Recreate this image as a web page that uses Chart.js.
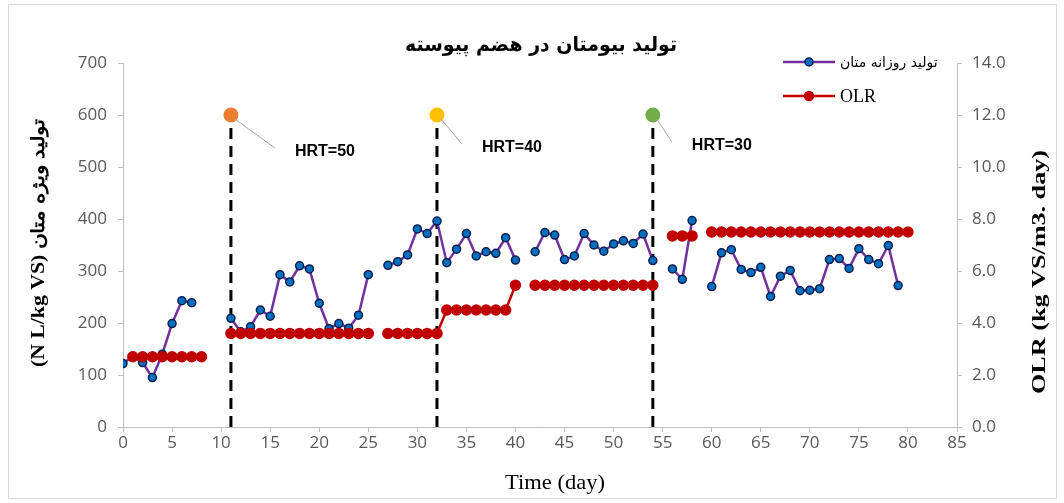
<!DOCTYPE html>
<html lang="fa">
<head>
<meta charset="UTF-8">
<title>Biomethane</title>
<script src="https://cdn.jsdelivr.net/npm/chart.js@4.4.0/dist/chart.umd.min.js"></script>
<style>
  body { margin: 0; background: #fff; }
  canvas { display: block; }
</style>
</head>
<body>
<canvas id="myChart" width="1064" height="503"></canvas>
<script>
// ---- data ----
const days = [0,1,2,3,4,5,6,7,8,9,10,11,12,13,14,15,16,17,18,19,20,
  21,22,23,24,25,26,27,28,29,30,31,32,33,34,35,36,37,38,39,40,
  41,42,43,44,45,46,47,48,49,50,51,52,53,54,55,56,57,58,59,60,
  61,62,63,64,65,66,67,68,69,70,71,72,73,74,75,76,77,78,79,80];

// daily specific methane production (N L/kg VS), left axis
const methane = [122,136,124,95,140,199,243,239,null,null,null,
  209,183,193,225,213,293,279,310,304,238,
  189,199,190,215,293,null,311,318,331,381,
  372,396,316,342,372,329,337,334,364,321,
  null,337,374,369,322,329,372,350,338,352,
  358,353,371,320,null,304,284,397,null,270,
  335,341,303,297,307,251,290,301,262,263,
  266,322,324,305,343,322,314,349,272,null];

// organic loading rate (kg VS/m3.day), right axis
const olr = [null,2.7,2.7,2.7,2.7,2.7,2.7,2.7,2.7,null,null,
  3.6,3.6,3.6,3.6,3.6,3.6,3.6,3.6,3.6,3.6,
  3.6,3.6,3.6,3.6,3.6,null,3.6,3.6,3.6,3.6,
  3.6,3.6,4.5,4.5,4.5,4.5,4.5,4.5,4.5,5.45,
  null,5.45,5.45,5.45,5.45,5.45,5.45,5.45,5.45,5.45,
  5.45,5.45,5.45,5.45,null,7.35,7.35,7.35,null,7.5,
  7.5,7.5,7.5,7.5,7.5,7.5,7.5,7.5,7.5,7.5,
  7.5,7.5,7.5,7.5,7.5,7.5,7.5,7.5,7.5,7.5];

// HRT change markers
const hrtDays = [11, 32, 54];
const hrtTop = 600;
const hrtLabels = ['HRT=50', 'HRT=40', 'HRT=30'];

const titleText = 'تولید بیومتان در هضم پیوسته';
const seriesNames = ['تولید روزانه متان', 'OLR'];
const yTitle = '(N L/kg VS) تولید ویژه متان';
const y2Title = 'OLR (kg VS/m3. day)';
const xTitle = 'Time (day)';

// ---- styling ----
const hrtColors = ['#ED7D31', '#FFC000', '#70AD47'];
const hrtLabelOffset = [[64, 37], [45, 33], [39, 31]];
const tickFont = { family: "'Open Sans', sans-serif", size: 17 };
const tickColor = '#595959';
const axisColor = '#bfbfbf';
const serif = "'Liberation Serif', 'DejaVu Serif', serif";

const pts = vals => days.map((d, i) => ({ x: d, y: vals[i] }));

const hrtSets = hrtDays.map((d, i) => ({
  label: hrtLabels[i],
  data: [{ x: d, y: 0 }, { x: d, y: hrtTop }],
  yAxisID: 'y',
  borderColor: '#000',
  borderWidth: 3,
  borderDash: [11, 7],
  pointRadius: [0, 6],
  pointBackgroundColor: hrtColors[i],
  pointBorderColor: hrtColors[i],
  order: 3
}));

// draw text centred at (x,y), rotated, stretched along its length to len px
function fitText(ctx, text, x, y, rot, font, len) {
  ctx.save();
  ctx.font = font;
  ctx.translate(x, y);
  ctx.rotate(rot);
  const w = ctx.measureText(text).width;
  if (len) ctx.scale(len / w, 1);
  ctx.textAlign = 'center';
  ctx.textBaseline = 'middle';
  ctx.fillText(text, 0, 0);
  ctx.restore();
}

const extras = {
  id: 'extras',
  afterDatasetsDraw(chart) {
    const ctx = chart.ctx;
    const xs = chart.scales.x, ys = chart.scales.y;
    ctx.save();
    // HRT leader lines + labels
    hrtDays.forEach((d, i) => {
      const px = xs.getPixelForValue(d), py = ys.getPixelForValue(hrtTop);
      const tx = px + hrtLabelOffset[i][0], ty = py + hrtLabelOffset[i][1];
      ctx.strokeStyle = '#a6a6a6';
      ctx.lineWidth = 1;
      ctx.beginPath();
      ctx.moveTo(px + 4, py + 4);
      ctx.lineTo(tx - 20, ty - 4);
      ctx.stroke();
      ctx.fillStyle = '#000';
      ctx.font = "bold 16px 'Liberation Sans', Arial, sans-serif";
      ctx.textAlign = 'left';
      ctx.textBaseline = 'middle';
      ctx.fillText(hrtLabels[i], tx, ty);
    });

    ctx.fillStyle = '#000';
    // title
    fitText(ctx, titleText, 541, 46, 0, "bold 20px 'DejaVu Sans', sans-serif", 272);

    // legend
    const rows = [
      { y: 62, line: '#7030A0', fill: '#0070C0', edge: '#0a1f4f', r: 4, font: "14px 'DejaVu Sans', sans-serif" },
      { y: 96, line: '#C00000', fill: '#C00000', edge: '#C00000', r: 4.5, font: '18px ' + serif }
    ];
    rows.forEach((r, i) => {
      ctx.strokeStyle = r.line;
      ctx.lineWidth = 2.5;
      ctx.beginPath();
      ctx.moveTo(783, r.y);
      ctx.lineTo(835, r.y);
      ctx.stroke();
      ctx.beginPath();
      ctx.arc(809, r.y, r.r, 0, Math.PI * 2);
      ctx.fillStyle = r.fill;
      ctx.fill();
      ctx.lineWidth = 1.5;
      ctx.strokeStyle = r.edge;
      ctx.stroke();
      ctx.fillStyle = '#000';
      ctx.font = r.font;
      ctx.textAlign = 'left';
      ctx.textBaseline = 'middle';
      ctx.fillText(seriesNames[i], 840, r.y + 1);
    });

    // axis titles
    fitText(ctx, yTitle, 39, 243, -Math.PI / 2, 'bold 18px ' + serif, 248);
    fitText(ctx, y2Title, 1040, 272, -Math.PI / 2, 'bold 18px ' + serif, 244);
    fitText(ctx, xTitle, 555, 483, 0, '21px ' + serif, 100);

    // chart area frame
    ctx.strokeStyle = '#d9d9d9';
    ctx.lineWidth = 1;
    ctx.strokeRect(8.5, 4.5, 1048, 494);
    ctx.restore();
  }
};

new Chart(document.getElementById('myChart'), {
  type: 'line',
  data: {
    datasets: [
      {
        label: seriesNames[1],
        data: pts(olr),
        yAxisID: 'y2',
        borderColor: '#C00000',
        borderWidth: 2.5,
        pointRadius: 4.5,
        pointBackgroundColor: '#C00000',
        pointBorderColor: '#C00000',
        spanGaps: false,
        order: 1
      },
      {
        label: seriesNames[0],
        data: pts(methane),
        yAxisID: 'y',
        borderColor: '#7030A0',
        borderWidth: 2.5,
        pointRadius: 4,
        pointBackgroundColor: '#0070C0',
        pointBorderColor: '#0a1f4f',
        pointBorderWidth: 1.5,
        spanGaps: false,
        order: 2
      },
      ...hrtSets
    ]
  },
  options: {
    responsive: false,
    devicePixelRatio: 1,
    animation: false,
    layout: { padding: { top: 63, left: 0, right: 0, bottom: 0 } },
    plugins: { legend: { display: false }, title: { display: false }, tooltip: { enabled: false } },
    scales: {
      x: {
        type: 'linear', min: 0, max: 85,
        ticks: { stepSize: 5, color: tickColor, font: tickFont, padding: 1, maxRotation: 0, autoSkip: false },
        grid: { drawOnChartArea: false, drawTicks: true, tickLength: 5, color: axisColor },
        border: { color: axisColor },
        afterFit: s => { s.height = 76; }
      },
      y: {
        position: 'left', min: 0, max: 700,
        ticks: { stepSize: 100, color: tickColor, font: tickFont, padding: 11 },
        grid: { drawOnChartArea: false, drawTicks: true, tickLength: 5, color: axisColor },
        border: { color: axisColor },
        afterFit: s => { s.width = 123; }
      },
      y2: {
        position: 'right', min: 0, max: 14,
        ticks: { stepSize: 2, color: tickColor, font: tickFont, padding: 10, callback: v => v.toFixed(1) },
        grid: { drawOnChartArea: false, drawTicks: true, tickLength: 5, color: axisColor },
        border: { color: axisColor },
        afterFit: s => { s.width = 107; }
      }
    }
  },
  plugins: [extras]
});
</script>
</body>
</html>
